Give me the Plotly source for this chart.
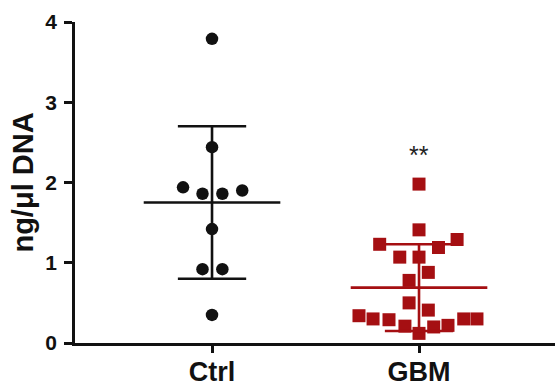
import numpy as np
import plotly.graph_objects as go

categories = ["Ctrl", "GBM"]
ctrl_values = [3.79, 2.44, 1.94, 1.86, 1.86, 1.90, 1.42, 0.92, 0.92, 0.35]
ctrl_offsets = [0.0, 0.0, -0.14, -0.046, 0.05, 0.146, 0.0, -0.046, 0.05, 0.0]
gbm_values = [1.98, 1.41, 1.23, 1.29, 1.19, 1.07, 1.07, 0.88, 0.78, 0.50,
              0.41, 0.34, 0.30, 0.29, 0.21, 0.12, 0.20, 0.22, 0.30, 0.30]
gbm_offsets = [0.0, 0.0, -0.19, 0.184, 0.094, -0.093, 0.0, 0.045, -0.048, -0.048,
               0.045, -0.29, -0.222, -0.145, -0.068, 0.0, 0.071, 0.14, 0.216, 0.28]
# mean and SD
means = [1.75, 0.69]
sds = [0.95, 0.54]
y_ticks = [0, 1, 2, 3, 4]
significance = "**"

BLACK = "#111111"
RED = "#A50F12"
FONT = "Arial, Liberation Sans, sans-serif"

fig = go.Figure()

groups = [
    (0, ctrl_values, ctrl_offsets, BLACK, "circle", 12.5),
    (1, gbm_values, gbm_offsets, RED, "square", 13),
]
for i, (pos, vals, offs, col, sym, size) in enumerate(groups):
    fig.add_trace(go.Scatter(
        x=[pos + o for o in offs], y=vals, mode="markers",
        marker=dict(color=col, symbol=sym, size=size, line=dict(width=0)),
        cliponaxis=False, showlegend=False, hoverinfo="y"))

for i, (pos, vals, offs, col, sym, size) in enumerate(groups):
    m, s = means[i], sds[i]
    lw = 2.6
    # mean line
    fig.add_trace(go.Scatter(x=[pos - 0.33, pos + 0.33], y=[m, m], mode="lines",
                             line=dict(color=col, width=lw), showlegend=False,
                             cliponaxis=False, hoverinfo="skip"))
    # vertical SD line
    fig.add_trace(go.Scatter(x=[pos, pos], y=[m - s, m + s], mode="lines",
                             line=dict(color=col, width=lw), showlegend=False,
                             cliponaxis=False, hoverinfo="skip"))
    # caps
    for yv in (m - s, m + s):
        fig.add_trace(go.Scatter(x=[pos - 0.165, pos + 0.165], y=[yv, yv], mode="lines",
                                 line=dict(color=col, width=lw), showlegend=False,
                                 cliponaxis=False, hoverinfo="skip"))

fig.add_annotation(x=1, y=2.34, text=significance, showarrow=False,
                   font=dict(family=FONT, size=25, color="#222222"),
                   xanchor="center", yanchor="middle")

fig.update_layout(
    width=555, height=389,
    margin=dict(l=75, r=0, t=22, b=46),
    paper_bgcolor="white", plot_bgcolor="white",
    font=dict(family=FONT, color=BLACK),
    xaxis=dict(
        range=[-0.662, 1.657], tickvals=[0, 1], ticktext=categories,
        showline=True, linecolor=BLACK, linewidth=2.5,
        ticks="outside", ticklen=7, tickwidth=2.5, tickcolor=BLACK,
        ticklabelstandoff=-4, automargin=False,
        tickfont=dict(family=FONT, size=27, color=BLACK, weight="bold"),
        showgrid=False, zeroline=False, fixedrange=True,
    ),
    yaxis=dict(
        range=[0, 4], tickvals=y_ticks, ticktext=[str(t) for t in y_ticks],
        showline=True, linecolor=BLACK, linewidth=2.5,
        ticks="outside", ticklen=8, tickwidth=2.5, tickcolor=BLACK,
        ticklabelstandoff=3, automargin=False,
        tickfont=dict(family=FONT, size=21, color=BLACK, weight="bold"),
        title=dict(text="ng/μl DNA", font=dict(family=FONT, size=29, color=BLACK, weight="bold"),
                   standoff=4),
        showgrid=False, zeroline=False, fixedrange=True,
    ),
)

fig.write_html("out.html")
